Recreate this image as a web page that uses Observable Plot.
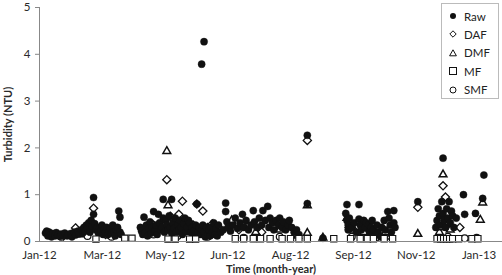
<!DOCTYPE html>
<html>
<head>
<meta charset="utf-8">
<script src="https://cdn.jsdelivr.net/npm/d3@7"></script>
<script src="https://cdn.jsdelivr.net/npm/@observablehq/plot@0.6"></script>
<style>
  html, body { margin: 0; padding: 0; background: #fff; }
  #wrap { position: relative; width: 502px; height: 275px; overflow: hidden; font-family: Lato, "Open Sans", sans-serif; }
  #wrap svg { overflow: visible; }
  #legend { position: absolute; left: 441px; top: 3px; width: 58px; height: 96px; border: 1px solid #bbb; background: #fff; box-sizing: border-box; }
  #legend .item { position: absolute; left: 6px; height: 14px; display: flex; align-items: center; font-size: 11.5px; color: #222; }
  #legend .item svg { margin-right: 6px; }
</style>
</head>
<body>
<div id="wrap"></div>
<script>
// ---- data (day = days since 1 Jan 2012; value = turbidity, NTU) ----
const xTickLabels = ["Jan-12", "Mar-12", "May-12", "Jun-12", "Aug-12", "Sep-12", "Nov-12", "Jan-13"];
const yTicks = [0, 1, 2, 3, 4, 5];
const seriesNames = ["Raw", "DAF", "DMF", "MF", "SMF"];
const xTitle = "Time (month-year)";
const yTitle = "Turbidity (NTU)";

const rawDay = [5,6,7,8,9,10,11,13,14,15,17,18,20,21,23,24,26,27,29,30,32,33,35,36,37,38,39,40,41,42,43,44,45,45,46,47,48,49,50,51,52,53,54,55,56,57,58,59,60,61,62,63,64,65,66,67,67,68,
  84,85,86,87,88,89,90,91,92,93,94,95,96,97,98,99,100,101,102,103,103,104,105,106,107,108,109,110,110,111,112,113,114,115,116,117,118,119,120,121,122,123,124,125,126,127,128,129,130,131,132,133,134,135,135,136,137,137,138,139,140,141,142,143,144,145,146,147,148,149,151,153,
  155,155,156,157,159,161,163,165,167,169,170,172,174,176,178,179,181,183,185,186,188,190,191,192,194,195,197,199,200,202,203,205,207,208,210,212,214,216,223,223,236,
  255,256,256,257,257,258,260,262,264,266,266,267,268,270,271,272,274,275,276,277,278,280,281,282,284,285,287,288,290,291,292,293,295,295,296,
  315,
  330,331,332,333,334,335,336,336,337,338,339,340,341,342,343,344,345,347,353,354,363,369,370];
const rawNTU = [.18,.22,.12,.2,.15,.1,.17,.12,.19,.14,.11,.16,.13,.18,.12,.15,.17,.1,.2,.14,.22,.16,.25,.18,.3,.22,.35,.28,.4,.2,.45,.32,.94,.58,.38,.25,.3,.18,.28,.22,.35,.15,.26,.2,.3,.15,.22,.28,.18,.35,.2,.12,.25,.3,.65,.52,.2,.15,
  .3,.22,.15,.52,.2,.35,.12,.28,.42,.18,.3,.64,.22,.35,.15,.58,.4,.25,.3,.9,.5,.2,.45,.35,.25,.55,.3,.9,.18,.4,.28,.5,.2,.35,.25,.45,.3,.15,.38,.5,.22,.3,.45,.4,.2,.3,.15,.25,.35,.8,.2,.3,.15,3.79,.25,.35,4.27,.2,.1,.3,.15,.25,.12,.3,.2,.4,.15,.28,.12,.35,.2,.25,
  .82,.64,.42,.3,.22,.35,.5,.28,.4,.58,.3,.45,.25,.35,.66,.42,.3,.5,.35,.66,.45,.75,.3,.5,.4,.25,.45,.35,.5,.3,.42,.25,.35,.45,.3,.2,.25,.15,2.27,.81,.07,
  .6,.79,.45,.35,.25,.5,.3,.4,.2,.79,.48,.35,.25,.45,.3,.4,.35,.2,.3,.45,.25,.15,.35,.2,.1,.3,.45,.25,.64,.5,.35,.2,.66,.4,.3,
  .85,
  .3,.45,.7,.55,.35,.85,1.78,.6,.45,.3,.7,.5,.85,.4,.65,.55,.3,.5,1.0,.58,.6,.92,1.42];

const dafDay = [8,20,30,40,45,55,62,90,95,100,106,109,112,116,119,121,125,128,131,136,140,144,146,158,166,185,223,258,275,315,336,338,340,350];
const dafNTU = [.15,.12,.29,.2,.71,.15,.25,.25,.35,.3,1.32,.54,.45,.58,.86,.4,.3,.35,.8,.65,.3,.38,.25,.3,.25,.2,2.16,.3,.25,.73,1.19,.95,.4,.3];

const dmfDay = [12,35,60,93,100,106,107,115,125,135,150,160,170,180,200,215,223,223,236,256,258,262,270,288,292,315,333,335,336,338,339,340,342,367,369];
const dmfNTU = [.12,.15,.12,.2,.25,1.93,.77,.3,.2,.22,.3,.45,.35,.2,.25,.12,.77,.18,.08,.5,.35,.25,.2,.2,.1,.16,.2,.3,1.43,.5,.6,.4,.25,.46,.83];

const mfDay = [47,71,77,107,113,125,130,163,170,178,184,192,202,209,216,223,245,259,267,273,278,287,294,331,334,336.5,339,341.5,344,349,360,365];
const mfNTU = [.05,.07,.07,.05,.05,.05,.05,.06,.06,.06,.06,.06,.06,.06,.06,.06,.06,.06,.06,.06,.06,.06,.06,.06,.06,.06,.06,.06,.06,.06,.06,.06];

const smfDay = [18,40,60,95,115,140,170,200,260,280,340,354,364];
const smfNTU = [.1,.12,.1,.15,.12,.1,.08,.1,.1,.08,.1,.07,.08];

// ---- build rows ----
const rows = (days, vals, s) => days.map((d, i) => ({day: d, ntu: vals[i], series: s}));
const raw = rows(rawDay, rawNTU, "Raw");
const daf = rows(dafDay, dafNTU, "DAF");
const dmf = rows(dmfDay, dmfNTU, "DMF");
const mf = rows(mfDay, mfNTU, "MF");
const smf = rows(smfDay, smfNTU, "SMF");

const yearDays = 366;                      // Jan-12 .. Jan-13
const step = yearDays / (xTickLabels.length - 1);
const xTicks = xTickLabels.map((_, i) => i * step);
const xMax = step * 7.373;

const ink = "#111";
const chart = Plot.plot({
  width: 502, height: 275,
  marginLeft: 39, marginRight: 0, marginTop: 7, marginBottom: 34,
  style: {fontFamily: "Lato, 'Open Sans', sans-serif", fontSize: "11.5px", color: "#2a2a2a", background: "#fff", overflow: "visible"},
  x: {domain: [0, xMax]},
  y: {domain: [0, 5]},
  marks: [
    Plot.axisX({ticks: xTicks, tickFormat: (d, i) => xTickLabels[i], tickSize: 0, tickPadding: 9,
      label: xTitle, labelAnchor: "center", labelOffset: 31, labelArrow: false}),
    Plot.axisY({ticks: yTicks, tickFormat: d3.format("d"), tickSize: 4, tickPadding: 5, stroke: "#888",
      label: yTitle, labelAnchor: "center", labelOffset: 35, labelArrow: false}),
    Plot.dot(daf, {x: "day", y: "ntu", symbol: "diamond2", r: 3.7, stroke: ink, strokeWidth: 1.3, fill: "#fff"}),
    Plot.dot(dmf, {x: "day", y: "ntu", symbol: "triangle2", r: 3.7, stroke: ink, strokeWidth: 1.5, fill: "#fff"}),
    Plot.dot(smf, {x: "day", y: "ntu", symbol: "circle", r: 3.4, stroke: ink, strokeWidth: 1.2, fill: "#fff"}),
    Plot.dot(raw, {x: "day", y: "ntu", symbol: "circle", r: 3.6, fill: ink, stroke: ink, strokeWidth: 0.4}),
    Plot.dot(mf, {x: "day", y: "ntu", symbol: "square2", r: 4, stroke: ink, strokeWidth: 1.1, fill: "#fff"}),
    Plot.ruleX([0], {stroke: "#888"}),
    Plot.ruleY([0], {stroke: "#888"})
  ]
});
const wrap = document.getElementById("wrap");
wrap.appendChild(chart);
// bold axis titles
chart.querySelectorAll("text, tspan").forEach(t => {
  const s = t.textContent || "";
  if (s.includes("Time (") || s.includes("Turbidity")) {
    t.setAttribute("font-weight", "bold");
    t.style.fontWeight = "700";
    t.style.fontSize = "11px";
  }
});

// ---- legend ----
const legendSymbols = {
  Raw: '<circle cx="5" cy="5" r="3" fill="#111"/>',
  DAF: '<path d="M5 1.8 L8.2 5 L5 8.2 L1.8 5 Z" fill="none" stroke="#111" stroke-width="1"/>',
  DMF: '<path d="M5 1.8 L8.4 7.8 L1.6 7.8 Z" fill="none" stroke="#111" stroke-width="1"/>',
  MF: '<rect x="1.5" y="1.5" width="7" height="7" fill="none" stroke="#111" stroke-width="1"/>',
  SMF: '<circle cx="5" cy="5" r="3" fill="none" stroke="#111" stroke-width="1"/>'
};
const legend = document.createElement("div");
legend.id = "legend";
seriesNames.forEach((s, i) => {
  const it = document.createElement("div");
  it.className = "item";
  it.style.top = (5 + i * 18.4) + "px";
  it.innerHTML = `<svg width="10" height="10">${legendSymbols[s]}</svg><span>${s}</span>`;
  legend.appendChild(it);
});
wrap.appendChild(legend);
</script>
</body>
</html>
